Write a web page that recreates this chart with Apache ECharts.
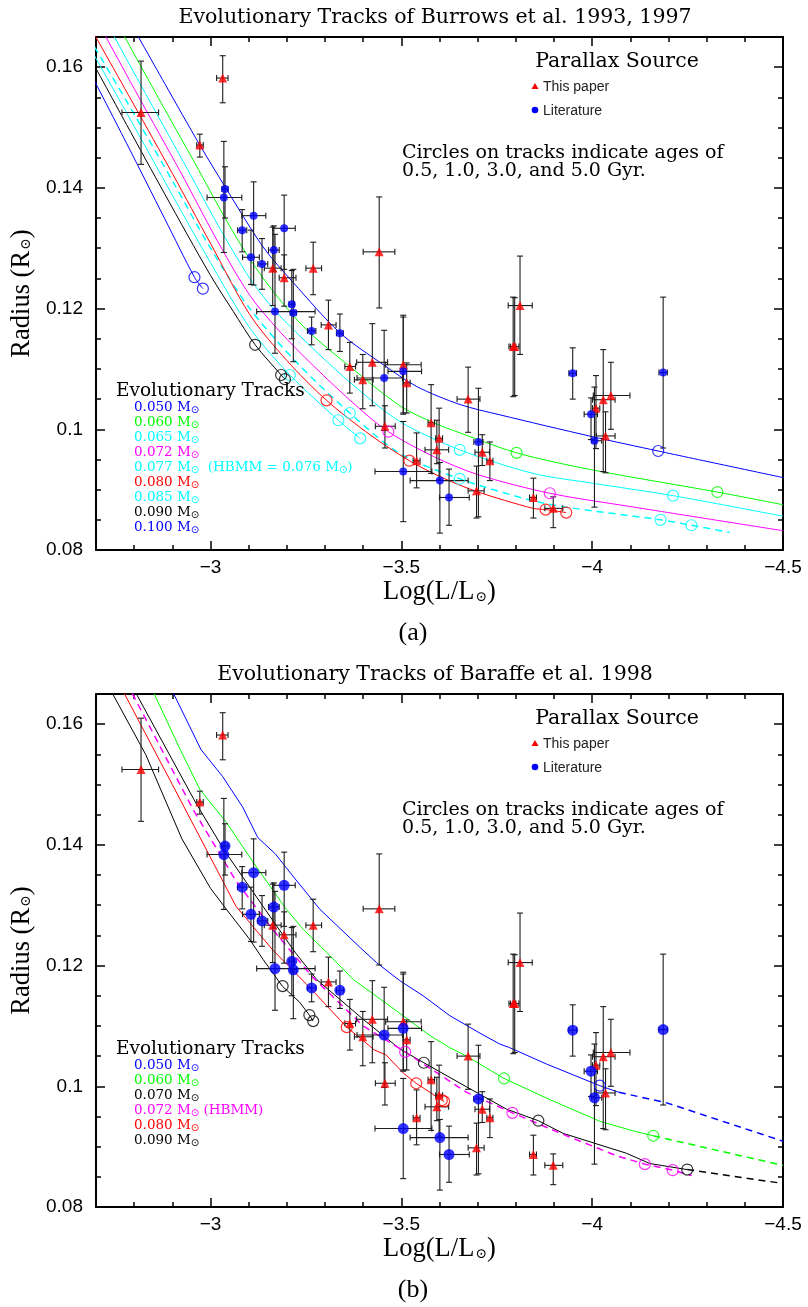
<!DOCTYPE html>
<html>
<head>
<meta charset="utf-8">
<script src="https://cdn.jsdelivr.net/npm/echarts@6/dist/echarts.min.js"></script>
<style>
  html, body { margin: 0; padding: 0; background: #fff; }
  #chart { width: 808px; height: 1307px; }
</style>
</head>
<body>
<div id="chart"></div>
<script>
// Observed objects: [logL, radius, logL left end, logL right end, radius low, radius high]
const thisPaper = [
  [-2.818, 0.1525, -2.768, -2.864, 0.1439, 0.1610],
  [-3.032, 0.1582, -3.016, -3.046, 0.1541, 0.1619],
  [-2.972, 0.1471, -2.964, -2.981, 0.1451, 0.1489],
  [-3.163, 0.1267, -3.141, -3.185, 0.1205, 0.1335],
  [-3.193, 0.1251, -3.180, -3.224, 0.1204, 0.1289],
  [-3.269, 0.1267, -3.250, -3.291, 0.1223, 0.1310],
  [-3.442, 0.1294, -3.400, -3.483, 0.1201, 0.1385],
  [-3.309, 0.1173, -3.290, -3.329, 0.1132, 0.1214],
  [-3.365, 0.1104, -3.352, -3.380, 0.1060, 0.1144],
  [-3.424, 0.1111, -3.383, -3.464, 0.1039, 0.1175],
  [-3.399, 0.1082, -3.377, -3.426, 0.1034, 0.1124],
  [-3.457, 0.1005, -3.432, -3.484, 0.0969, 0.1039],
  [-3.505, 0.1107, -3.459, -3.552, 0.1025, 0.1186],
  [-3.514, 0.1077, -3.505, -3.523, 0.1027, 0.1110],
  [-3.811, 0.1205, -3.780, -3.843, 0.1124, 0.1287],
  [-3.793, 0.1137, -3.786, -3.800, 0.1054, 0.1219],
  [-3.797, 0.1137, -3.782, -3.808, 0.1056, 0.1218],
  [-4.010, 0.1035, -4.001, -4.020, 0.0968, 0.1089],
  [-4.029, 0.1049, -4.001, -4.060, 0.0930, 0.1132],
  [-4.049, 0.1056, -4.003, -4.099, 0.1000, 0.1111],
  [-4.035, 0.0989, -4.011, -4.060, 0.0928, 0.1029],
  [-3.675, 0.1050, -3.646, -3.706, 0.0995, 0.1103],
  [-3.578, 0.1011, -3.570, -3.587, 0.0927, 0.1074],
  [-3.599, 0.0985, -3.590, -3.608, 0.0916, 0.1035],
  [-3.593, 0.0966, -3.562, -3.624, 0.0943, 0.1015],
  [-3.540, 0.0948, -3.531, -3.549, 0.0903, 0.0994],
  [-3.712, 0.0962, -3.693, -3.731, 0.0940, 0.0991],
  [-3.732, 0.0948, -3.724, -3.740, 0.0915, 0.0979],
  [-3.697, 0.0898, -3.675, -3.717, 0.0853, 0.0939],
  [-3.846, 0.0887, -3.836, -3.854, 0.0853, 0.0919],
  [-3.898, 0.0869, -3.876, -3.923, 0.0837, 0.0888]
];
const literature = [
  [-3.038, 0.1398, -3.030, -3.046, 0.1350, 0.1435],
  [-3.035, 0.1384, -2.991, -3.082, 0.1293, 0.1477],
  [-3.113, 0.1354, -3.082, -3.145, 0.1239, 0.1410],
  [-3.083, 0.1330, -3.071, -3.095, 0.1294, 0.1364],
  [-3.193, 0.1333, -3.163, -3.222, 0.1265, 0.1388],
  [-3.106, 0.1285, -3.084, -3.128, 0.1240, 0.1330],
  [-3.135, 0.1274, -3.124, -3.150, 0.1232, 0.1316],
  [-3.166, 0.1297, -3.152, -3.180, 0.1262, 0.1337],
  [-3.213, 0.1207, -3.206, -3.220, 0.1150, 0.1263],
  [-3.169, 0.1195, -3.121, -3.274, 0.1126, 0.1323],
  [-3.217, 0.1193, -3.209, -3.225, 0.1112, 0.1265],
  [-3.265, 0.1163, -3.254, -3.276, 0.1140, 0.1186],
  [-3.339, 0.1159, -3.330, -3.348, 0.1129, 0.1191],
  [-3.455, 0.1085, -3.384, -3.503, 0.0998, 0.1164],
  [-3.505, 0.1096, -3.465, -3.553, 0.1027, 0.1189],
  [-3.505, 0.0930, -3.431, -3.580, 0.0847, 0.1013],
  [-3.949, 0.1093, -3.939, -3.959, 0.1050, 0.1135],
  [-4.186, 0.1094, -4.175, -4.197, 0.0969, 0.1219],
  [-3.997, 0.1025, -3.979, -4.014, 0.0983, 0.1052],
  [-4.006, 0.0981, -3.999, -4.025, 0.0871, 0.1070],
  [-3.702, 0.0979, -3.690, -3.714, 0.0855, 0.1068],
  [-3.601, 0.0915, -3.523, -3.675, 0.0828, 0.0945],
  [-3.625, 0.0887, -3.600, -3.678, 0.0841, 0.0934]
];

// Burrows et al. 1993, 1997 tracks: [logL, radius]
const burrows050 = [[-2.780,0.1685],[-2.880,0.1573],[-2.972,0.1471],[-3.038,0.1402],[-3.138,0.1302],[-3.217,0.1243],[-3.339,0.1160],[-3.453,0.1107],[-3.540,0.1071],[-3.654,0.1041],[-3.758,0.1024],[-3.999,0.0988],[-4.173,0.0964],[-4.500,0.0920]];
const burrows060 = [[-2.745,0.1685],[-2.860,0.1553],[-2.960,0.1440],[-3.040,0.1348],[-3.103,0.1282],[-3.170,0.1224],[-3.250,0.1166],[-3.365,0.1104],[-3.496,0.1039],[-3.584,0.1011],[-3.654,0.0994],[-3.802,0.0961],[-3.998,0.0933],[-4.328,0.0896],[-4.500,0.0875]];
const burrows065 = [[-2.718,0.1685],[-2.830,0.1556],[-2.930,0.1442],[-3.020,0.1338],[-3.103,0.1250],[-3.170,0.1196],[-3.250,0.1145],[-3.365,0.1078],[-3.496,0.1013],[-3.653,0.0966],[-3.845,0.0927],[-3.998,0.0911],[-4.212,0.0890],[-4.500,0.0856]];
const burrows072 = [[-2.696,0.1685],[-2.810,0.1553],[-2.920,0.1428],[-3.020,0.1310],[-3.103,0.1222],[-3.180,0.1163],[-3.270,0.1105],[-3.380,0.1040],[-3.466,0.0996],[-3.584,0.0955],[-3.700,0.0925],[-3.889,0.0894],[-4.100,0.0872],[-4.500,0.0832]];
const burrows077 = [[-2.680,0.1651],[-2.800,0.1522],[-2.900,0.1412],[-3.000,0.1300],[-3.103,0.1200],[-3.230,0.1108],[-3.365,0.1027],[-3.496,0.0960],[-3.653,0.0918],[-3.836,0.0883],[-3.932,0.0871],[-4.179,0.0850],[-4.260,0.0841],[-4.360,0.0829]];
const burrows080 = [[-2.680,0.1672],[-2.800,0.1537],[-2.900,0.1424],[-3.000,0.1308],[-3.103,0.1190],[-3.200,0.1114],[-3.304,0.1048],[-3.420,0.0990],[-3.521,0.0948],[-3.600,0.0922],[-3.697,0.0897],[-3.845,0.0869],[-3.878,0.0867],[-3.932,0.0862]];
const burrows085 = [[-2.680,0.1637],[-2.800,0.1502],[-2.900,0.1388],[-3.000,0.1276],[-3.103,0.1168],[-3.208,0.1090],[-3.335,0.1015],[-3.392,0.0985]];
const burrows090 = [[-2.680,0.1621],[-2.780,0.1505],[-2.880,0.1390],[-3.000,0.1255],[-3.060,0.1195],[-3.117,0.1140],[-3.185,0.1090],[-3.195,0.1083]];
const burrows100 = [[-2.680,0.1597],[-2.780,0.1474],[-2.880,0.1349],[-2.958,0.1252],[-2.980,0.1233]];

// Ages 0.5, 1.0, 3.0, 5.0 Gyr along the Burrows tracks
const burrowsAges050 = [[-4.173,0.0964]];
const burrowsAges060 = [[-3.802,0.0961],[-4.328,0.0896]];
const burrowsAges065 = [[-3.653,0.0966],[-4.212,0.0890]];
const burrowsAges072 = [[-3.466,0.0996],[-3.889,0.0894]];
const burrowsAges077 = [[-3.365,0.1027],[-3.653,0.0918],[-4.179,0.0850],[-4.260,0.0841]];
const burrowsAges080 = [[-3.304,0.1048],[-3.521,0.0948],[-3.878,0.0867],[-3.932,0.0862]];
const burrowsAges085 = [[-3.208,0.1090],[-3.335,0.1015],[-3.392,0.0985]];
const burrowsAges090 = [[-3.117,0.1140],[-3.185,0.1090],[-3.195,0.1083]];
const burrowsAges100 = [[-2.958,0.1252],[-2.980,0.1233]];

// Baraffe et al. 1998 tracks: [logL, radius]; the *Ext arrays are the dashed continuations
const baraffe050 = [[-2.903,0.1651],[-2.975,0.1558],[-3.032,0.1513],[-3.084,0.1463],[-3.124,0.1412],[-3.170,0.1385],[-3.220,0.1345],[-3.287,0.1293],[-3.392,0.1230],[-3.435,0.1205],[-3.496,0.1175],[-3.557,0.1150],[-3.627,0.1117],[-3.706,0.1088],[-3.758,0.1070],[-3.784,0.1064],[-3.880,0.1037],[-4.020,0.1001],[-4.070,0.0990]];
const baraffe050Ext = [[-4.070,0.0990],[-4.193,0.0973],[-4.500,0.0909]];
const baraffe060 = [[-2.852,0.1651],[-2.920,0.1559],[-2.972,0.1492],[-3.042,0.1437],[-3.112,0.1371],[-3.199,0.1293],[-3.243,0.1260],[-3.304,0.1222],[-3.374,0.1177],[-3.496,0.1121],[-3.575,0.1084],[-3.627,0.1064],[-3.671,0.1050],[-3.769,0.1013],[-3.889,0.0978],[-4.020,0.0942],[-4.108,0.0926],[-4.160,0.0918]];
const baraffe060Ext = [[-4.160,0.0918],[-4.500,0.0869]];
const baraffe070 = [[-2.805,0.1651],[-2.962,0.1469],[-3.036,0.1391],[-3.163,0.1275],[-3.224,0.1220],[-3.278,0.1177],[-3.400,0.1111],[-3.496,0.1062],[-3.559,0.1039],[-3.671,0.0999],[-3.776,0.0962],[-3.859,0.0943],[-3.924,0.0922],[-4.090,0.0889],[-4.151,0.0872],[-4.249,0.0862]];
const baraffe070Ext = [[-4.249,0.0862],[-4.500,0.0839]];
const baraffe072 = [[-2.795,0.1651],[-2.955,0.1458],[-3.067,0.1340],[-3.160,0.1262],[-3.269,0.1180],[-3.400,0.1100],[-3.510,0.1057],[-3.671,0.0990],[-3.791,0.0956],[-3.933,0.0918],[-4.064,0.0885],[-4.138,0.0871],[-4.211,0.0861],[-4.261,0.0852]];
const baraffe080 = [[-2.774,0.1651],[-2.900,0.1500],[-3.067,0.1298],[-3.163,0.1226],[-3.261,0.1163],[-3.357,0.1098],[-3.430,0.1060],[-3.460,0.1052],[-3.505,0.1022],[-3.539,0.1005],[-3.606,0.0977],[-3.612,0.0975]];
const baraffe090 = [[-2.743,0.1651],[-2.830,0.1550],[-2.925,0.1410],[-3.000,0.1328],[-3.042,0.1293],[-3.102,0.1244],[-3.138,0.1210],[-3.188,0.1166],[-3.234,0.1139],[-3.259,0.1118],[-3.269,0.1108]];

const baraffeAges050 = [[-4.020,0.1001]];
const baraffeAges060 = [[-3.769,0.1013],[-4.160,0.0918]];
const baraffeAges070 = [[-3.559,0.1039],[-3.859,0.0943],[-4.249,0.0862]];
const baraffeAges072 = [[-3.510,0.1057],[-3.791,0.0956],[-4.138,0.0871],[-4.211,0.0861]];
const baraffeAges080 = [[-3.357,0.1098],[-3.539,0.1005],[-3.606,0.0977],[-3.612,0.0975]];
const baraffeAges090 = [[-3.189,0.1166],[-3.259,0.1118],[-3.269,0.1108]];

// Axis ranges and labels
const xRange = [-4.5, -2.7];
const yRange = [0.08, 0.165];
const panelTitles = ['Evolutionary Tracks of Burrows et al. 1993, 1997', 'Evolutionary Tracks of Baraffe et al. 1998'];
const panelTags = ['(a)', '(b)'];
const burrowsLabels = ['0.050', '0.060', '0.065', '0.072', '0.077', '0.080', '0.085', '0.090', '0.100'];
const baraffeLabels = ['0.050', '0.060', '0.070', '0.072', '0.080', '0.090'];

const BLUE = '#0000ff', GREEN = '#00ff00', CYAN = '#00ffff', MAGENTA = '#ff00ff', RED = '#ff0000', BLACK = '#000000';

const burrowsTracks = [
  { line: burrows050, ages: burrowsAges050, color: BLUE },
  { line: burrows060, ages: burrowsAges060, color: GREEN },
  { line: burrows065, ages: burrowsAges065, color: CYAN },
  { line: burrows072, ages: burrowsAges072, color: MAGENTA },
  { line: burrows077, ages: burrowsAges077, color: CYAN, dashed: true },
  { line: burrows080, ages: burrowsAges080, color: RED },
  { line: burrows085, ages: burrowsAges085, color: CYAN },
  { line: burrows090, ages: burrowsAges090, color: BLACK },
  { line: burrows100, ages: burrowsAges100, color: BLUE }
];
const burrowsNotes = ['', '', '', '', '  (HBMM = 0.076 M{s|⊙})', '', '', '', ''];

const baraffeTracks = [
  { line: baraffe050, ext: baraffe050Ext, ages: baraffeAges050, color: BLUE },
  { line: baraffe060, ext: baraffe060Ext, ages: baraffeAges060, color: GREEN },
  { line: baraffe070, ext: baraffe070Ext, ages: baraffeAges070, color: BLACK },
  { line: baraffe072, ages: baraffeAges072, color: MAGENTA, dashed: true },
  { line: baraffe080, ages: baraffeAges080, color: RED },
  { line: baraffe090, ages: baraffeAges090, color: BLACK }
];
const baraffeNotes = ['', '', '', ' (HBMM)', '', ''];

const SERIF_PG = '"DejaVu Serif", serif';
const SERIF_TEX = '"Liberation Serif", "DejaVu Serif", serif';
const SANS = '"Liberation Sans", Arial, sans-serif';

const chart = echarts.init(document.getElementById('chart'), null, { renderer: 'canvas' });

const grids = [
  { left: 96, top: 37, width: 687, height: 513 },
  { left: 96, top: 694, width: 687, height: 513 }
];

const frameLine = { show: true, onZero: false, lineStyle: { color: '#000', width: 2 } };
const majorTick = { show: true, inside: true, length: 9, lineStyle: { color: '#000', width: 1.5 } };
const minor = (n) => ({ show: true, splitNumber: n, length: 5, lineStyle: { color: '#000', width: 1.5 } });
const subRich = { s: { fontSize: 14, padding: [10, 0, 0, 1], fontFamily: SERIF_TEX } };
const minusFmt = (v) => (Math.abs(v - xRange[1]) < 1e-9 ? '' : String(v).replace('-', '\u2212'));

const xAxes = [], yAxes = [];
grids.forEach((g, i) => {
  xAxes.push({
    gridIndex: i, type: 'value', min: xRange[0], max: xRange[1], interval: 0.5, inverse: true,
    position: 'bottom', axisLine: frameLine, axisTick: majorTick, minorTick: minor(5),
    splitLine: { show: false },
    axisLabel: { show: true, margin: 8, color: '#000', fontFamily: SANS, fontSize: 19, formatter: minusFmt, showMaxLabel: false },
    name: 'Log(L/L{s|⊙})', nameLocation: 'middle', nameGap: 29,
    nameTextStyle: { color: '#000', fontFamily: SERIF_TEX, fontSize: 26.5, rich: subRich }
  });
  xAxes.push({
    gridIndex: i, type: 'value', min: xRange[0], max: xRange[1], interval: 0.5, inverse: true,
    position: 'top', axisLine: frameLine, axisTick: majorTick, minorTick: minor(5),
    splitLine: { show: false }, axisLabel: { show: false }
  });
  yAxes.push({
    gridIndex: i, type: 'value', min: yRange[0], max: yRange[1], interval: 0.02,
    position: 'left', axisLine: frameLine, axisTick: majorTick, minorTick: minor(4),
    splitLine: { show: false },
    axisLabel: { show: true, margin: 13, color: '#000', fontFamily: SANS, fontSize: 19, showMaxLabel: false,
      formatter: (v) => (Math.abs(v - yRange[1]) < 1e-9 ? '' : String(v)) },
    name: 'Radius (R{s|⊙})', nameLocation: 'middle', nameGap: 58, nameRotate: 90,
    nameTextStyle: { color: '#000', fontFamily: SERIF_TEX, fontSize: 26.5, rich: subRich }
  });
  yAxes.push({
    gridIndex: i, type: 'value', min: yRange[0], max: yRange[1], interval: 0.02,
    position: 'right', axisLine: frameLine, axisTick: majorTick, minorTick: minor(4),
    splitLine: { show: false }, axisLabel: { show: false }
  });
});

// Error bars with end caps, drawn through the panel's scales
function errorBars(rows, panel) {
  const cap = 3;
  return {
    type: 'custom', xAxisIndex: panel * 2, yAxisIndex: panel * 2, z: 3, silent: true,
    encode: { x: 0, y: 1 },
    data: rows,
    renderItem(params, api) {
      const x = api.value(0), y = api.value(1);
      const c = api.coord([x, y]);
      const xl = api.coord([api.value(2), y])[0];
      const xr = api.coord([api.value(3), y])[0];
      const yl = api.coord([x, api.value(4)])[1];
      const yh = api.coord([x, api.value(5)])[1];
      const style = { stroke: '#1c1c1c', lineWidth: 1.1 };
      const seg = (x1, y1, x2, y2) => ({ type: 'line', shape: { x1, y1, x2, y2 }, style });
      return {
        type: 'group',
        children: [
          seg(xl, c[1], xr, c[1]),
          seg(xl, c[1] - cap, xl, c[1] + cap),
          seg(xr, c[1] - cap, xr, c[1] + cap),
          seg(c[0], yl, c[0], yh),
          seg(c[0] - cap, yl, c[0] + cap, yl),
          seg(c[0] - cap, yh, c[0] + cap, yh)
        ]
      };
    }
  };
}

function trackLine(data, panel, color, dashed, smooth) {
  return {
    type: 'line', xAxisIndex: panel * 2, yAxisIndex: panel * 2, data, symbol: 'none',
    smooth: smooth ? 0.3 : false, clip: true, silent: true, z: 2,
    lineStyle: { color, width: dashed ? 1.5 : 1, type: dashed ? [7, 5] : 'solid' }
  };
}

function ageCircles(data, panel, color) {
  return {
    type: 'scatter', xAxisIndex: panel * 2, yAxisIndex: panel * 2, data, symbol: 'circle', symbolSize: 11,
    silent: true, z: 4,
    itemStyle: { color: 'rgba(0,0,0,0)', borderColor: color, borderWidth: 1.2 }
  };
}

function points(rows, panel, kind) {
  const isTri = kind === 'tri';
  return {
    type: 'scatter', xAxisIndex: panel * 2, yAxisIndex: panel * 2,
    data: rows.map(r => [r[0], r[1]]),
    symbol: isTri ? 'triangle' : 'circle',
    symbolSize: isTri ? 9 : (panel === 0 ? 8 : 11),
    silent: true, z: 5,
    itemStyle: { color: isTri ? RED : BLUE }
  };
}

const series = [];
burrowsTracks.forEach(t => {
  series.push(trackLine(t.line, 0, t.color, t.dashed, true));
  series.push(ageCircles(t.ages, 0, t.color));
});
baraffeTracks.forEach(t => {
  series.push(trackLine(t.line, 1, t.color, t.dashed, false));
  if (t.ext) series.push(trackLine(t.ext, 1, t.color, true, false));
  series.push(ageCircles(t.ages, 1, t.color));
});
[0, 1].forEach(p => {
  series.push(errorBars(thisPaper, p));
  series.push(errorBars(literature, p));
  series.push(points(thisPaper, p, 'tri'));
  series.push(points(literature, p, 'dot'));
});

// Text and key elements
const graphic = [];
function text(x, y, str, font, fill, align, rich) {
  graphic.push({
    type: 'text', x, y, silent: true, z: 10,
    style: { text: str, font, fill, align: align || 'left', verticalAlign: 'middle', rich }
  });
}

const panelTop = [0, 657];
[0, 1].forEach(p => {
  const dy = panelTop[p];
  text(435, 18 + dy, panelTitles[p], `20.5px ${SERIF_PG}`, '#000', 'center');
  text(617, 62 + dy, 'Parallax Source', `20.5px ${SERIF_PG}`, '#000', 'center');
  graphic.push({ type: 'polygon', silent: true, z: 10,
    shape: { points: [[535, 83 + dy], [531.5, 89 + dy], [538.5, 89 + dy]] }, style: { fill: RED } });
  text(543, 87 + dy, 'This paper', `14px ${SANS}`, '#222');
  graphic.push({ type: 'circle', silent: true, z: 10,
    shape: { cx: 535, cy: 110 + dy, r: 3.3 }, style: { fill: BLUE } });
  text(543, 111 + dy, 'Literature', `14px ${SANS}`, '#222');
  text(402, 153 + dy, 'Circles on tracks indicate ages of', `19px ${SERIF_PG}`, '#000');
  text(402, 171 + dy, '0.5, 1.0, 3.0, and 5.0 Gyr.', `19px ${SERIF_PG}`, '#000');
  text(413, 633 + dy, panelTags[p], `26px ${SERIF_TEX}`, '#000', 'center');
});

const keyRich = (color) => ({ s: { fontSize: 10, padding: [7, 0, 0, 0], fontFamily: '"DejaVu Sans", sans-serif', fill: color } });
text(116, 391, 'Evolutionary Tracks', `18.5px ${SERIF_PG}`, '#000');
burrowsTracks.forEach((t, i) => {
  text(134, 407 + i * 15, burrowsLabels[i] + ' M{s|⊙}' + burrowsNotes[i], `13.5px ${SERIF_PG}`, t.color, 'left', keyRich(t.color));
});
text(116, 1049, 'Evolutionary Tracks', `18.5px ${SERIF_PG}`, '#000');
baraffeTracks.forEach((t, i) => {
  text(134, 1065 + i * 15, baraffeLabels[i] + ' M{s|⊙}' + baraffeNotes[i], `13.5px ${SERIF_PG}`, t.color, 'left', keyRich(t.color));
});

chart.setOption({
  backgroundColor: '#ffffff',
  animation: false,
  grid: grids,
  xAxis: xAxes,
  yAxis: yAxes,
  series,
  graphic
});
</script>
</body>
</html>
